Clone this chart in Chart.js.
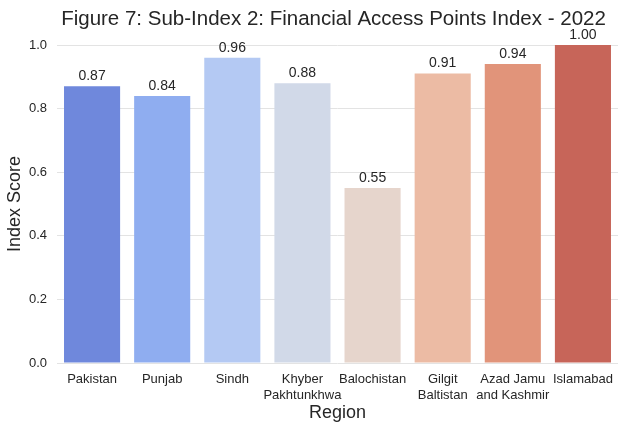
<!DOCTYPE html>
<html>
<head>
<meta charset="utf-8">
<script src="https://cdn.jsdelivr.net/npm/chart.js@4"></script>
<style>
  body { margin: 0; background: #fff; }
</style>
</head>
<body>
<canvas id="chart" width="624" height="429"></canvas>
<script>
const chartTitle = "Figure 7: Sub-Index 2: Financial Access Points Index - 2022";
const regions = [
  "Pakistan",
  "Punjab",
  "Sindh",
  ["Khyber", "Pakhtunkhwa"],
  "Balochistan",
  ["Gilgit", "Baltistan"],
  ["Azad Jamu", "and Kashmir"],
  "Islamabad",
];
const scores = [0.87, 0.84, 0.96, 0.88, 0.55, 0.91, 0.94, 1.0];
const barColors = [
  "#6f88dc", "#8fadf0", "#b4c9f3", "#d1d9e8",
  "#e6d5cc", "#ecbba4", "#e1947a", "#c76559",
];
const yTicks = [0, 0.2, 0.4, 0.6, 0.8, 1.0];

const font = "'Liberation Sans', Arial, sans-serif";
const textColor = "#262626";

// labels above bars + title centred over the plot area
const valueLabels = {
  id: "valueLabels",
  afterDatasetsDraw(chart) {
    const c = chart.ctx;
    const meta = chart.getDatasetMeta(0);
    const area = chart.chartArea;
    c.save();
    c.font = "14px " + font;
    c.fillStyle = textColor;
    c.textAlign = "center";
    c.textBaseline = "bottom";
    meta.data.forEach((bar, i) => {
      c.fillText(scores[i].toFixed(2), bar.x, bar.y - 3);
    });
    c.font = "20.5px " + font;
    c.textBaseline = "alphabetic";
    c.fillText(chartTitle, (area.left + area.right) / 2 - 4, 25);
    c.restore();
  },
};

const ctx = document.getElementById("chart").getContext("2d");
new Chart(ctx, {
  type: "bar",
  data: {
    labels: regions,
    datasets: [
      {
        data: scores,
        backgroundColor: barColors,
        barPercentage: 0.8,
        categoryPercentage: 1.0,
      },
    ],
  },
  options: {
    responsive: false,
    animation: false,
    layout: { padding: { left: 4, right: 6, top: 45, bottom: 0 } },
    plugins: {
      legend: { display: false },
      tooltip: { enabled: false },
      title: { display: false },
    },
    scales: {
      x: {
        afterFit(axis) {
          axis.height = 66;
        },
        grid: { display: false, drawTicks: false },
        border: { display: false },
        ticks: {
          font: { family: font, size: 13, lineHeight: 1.2 },
          color: textColor,
          maxRotation: 0,
          autoSkip: false,
          padding: 9,
        },
        title: {
          display: true,
          text: "Region",
          font: { family: font, size: 18 },
          color: textColor,
          padding: { top: 0, bottom: 5 },
        },
      },
      y: {
        min: 0,
        max: 1.0,
        afterBuildTicks(axis) {
          axis.ticks = yTicks.map((v) => ({ value: v }));
        },
        afterFit(axis) {
          axis.width = 53;
        },
        grid: { color: "#e3e3e3", drawTicks: false },
        border: { display: false },
        ticks: {
          font: { family: font, size: 13 },
          color: textColor,
          padding: 10,
          callback: (v) => v.toFixed(1),
        },
        title: {
          display: true,
          text: "Index Score",
          font: { family: font, size: 18 },
          color: textColor,
          padding: { top: 0, bottom: 0 },
        },
      },
    },
  },
  plugins: [valueLabels],
});
</script>
</body>
</html>
